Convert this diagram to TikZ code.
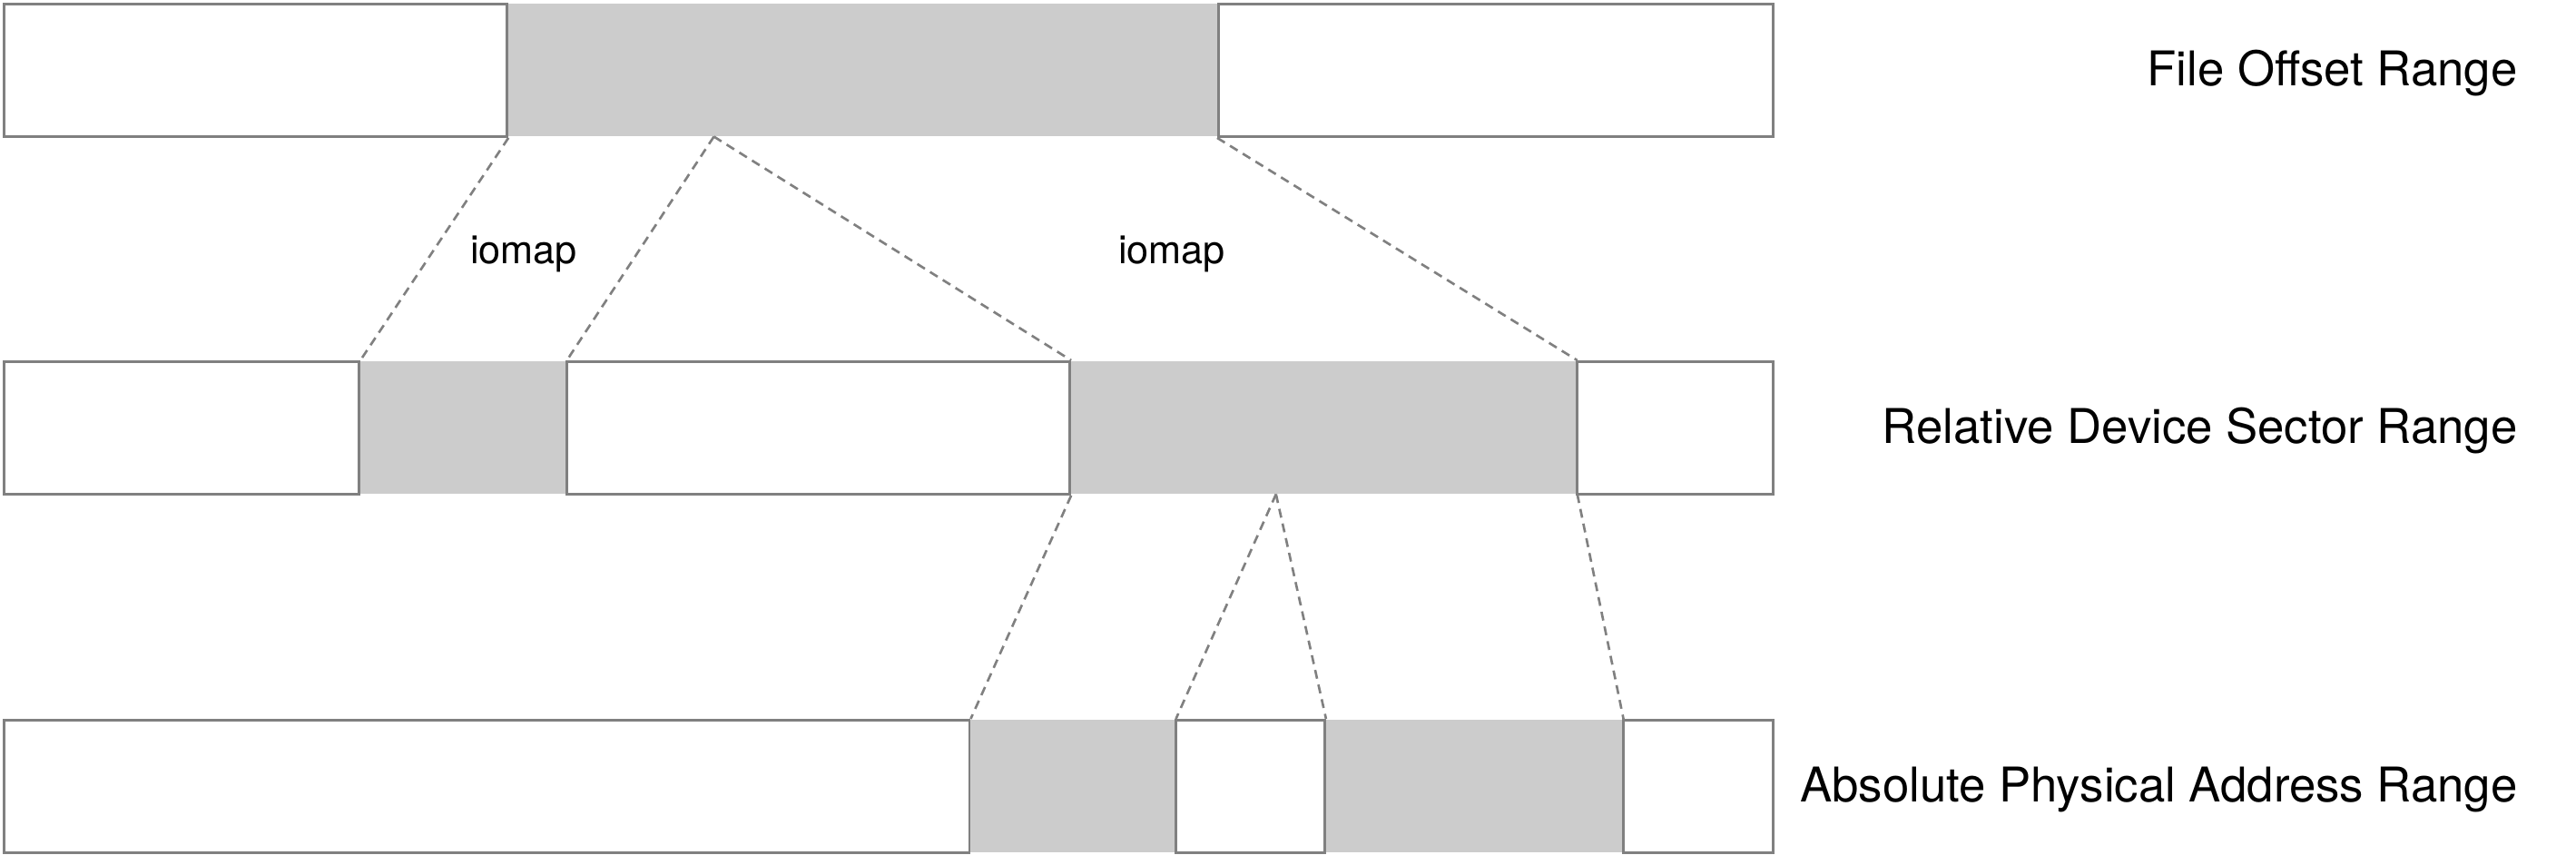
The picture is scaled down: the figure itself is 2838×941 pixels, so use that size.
\documentclass[tikz,border=0pt]{standalone}
\usepackage{fontspec}
\setmainfont{TeX Gyre Heros}
\usetikzlibrary{calc}
\definecolor{linegray}{HTML}{808080}
\definecolor{fillgray}{HTML}{CCCCCC}

\begin{document}
\begin{tikzpicture}[x=0.01cm, y=-0.01cm,
  blank/.style={draw=linegray, line width=0.8pt, fill=white, inner sep=0pt,
    minimum height=1.46cm, anchor=north west},
  used/.style={fill=fillgray, inner sep=0pt, minimum height=1.46cm, anchor=north west},
  link/.style={draw=linegray, line width=0.75pt, dash pattern=on 2.8pt off 1.9pt},
  rowlabel/.style={anchor=east, font=\fontsize{15}{18}\selectfont},
  maplabel/.style={font=\fontsize{12.3}{15}\selectfont}]
  \useasboundingbox (0,0) rectangle (2838,941);
  % File offsets.
  \node[used,  minimum width=7.84cm] (f2) at (557,3) {};
  \node[blank, minimum width=5.54cm] (f1) at (3,3) {};
  \node[blank, minimum width=6.11cm] (f3) at (1341,3) {};
  % Relative device sectors.
  \node[used,  minimum width=2.29cm] (r2) at (394,397) {};
  \node[used,  minimum width=5.59cm] (r4) at (1177,397) {};
  \node[blank, minimum width=3.91cm] (r1) at (3,397) {};
  \node[blank, minimum width=5.54cm] (r3) at (623,397) {};
  \node[blank, minimum width=2.16cm] (r5) at (1736,397) {};
  % Absolute physical addresses.
  \node[used,  minimum width=2.28cm] (a2) at (1066,792) {};
  \node[used,  minimum width=3.29cm] (a4) at (1458,792) {};
  \node[blank, minimum width=10.63cm] (a1) at (3,792) {};
  \node[blank, minimum width=1.64cm] (a3) at (1294,792) {};
  \node[blank, minimum width=1.65cm] (a5) at (1787,792) {};
  % Where a range is split.
  \coordinate (fcut) at ($(f2.south west)!0.292!(f2.south east)$);
  \coordinate (rcut) at ($(r4.south west)!0.408!(r4.south east)$);
  % The mappings.
  \draw[link] (f1.south east) -- (r1.north east);
  \draw[link] (fcut) -- (r2.north east);
  \draw[link] (fcut) -- (r3.north east);
  \draw[link] (f3.south west) -- (r4.north east);
  \draw[link] (r3.south east) -- (a1.north east);
  \draw[link] (rcut) -- (a2.north east);
  \draw[link] (rcut) -- (a3.north east);
  \draw[link] (r4.south east) -- (a4.north east);
  \node[maplabel] (map1) at (577,280) {iomap};
  \node[maplabel] (map2) at (1291,280) {iomap};
  % Row names.
  \node[rowlabel] (file) at (2786,81) {File Offset Range};
  \node[rowlabel] (rel) at (2786,475) {Relative Device Sector Range};
  \node[rowlabel] (abs) at (2786,870) {Absolute Physical Address Range};
\end{tikzpicture}
\end{document}
